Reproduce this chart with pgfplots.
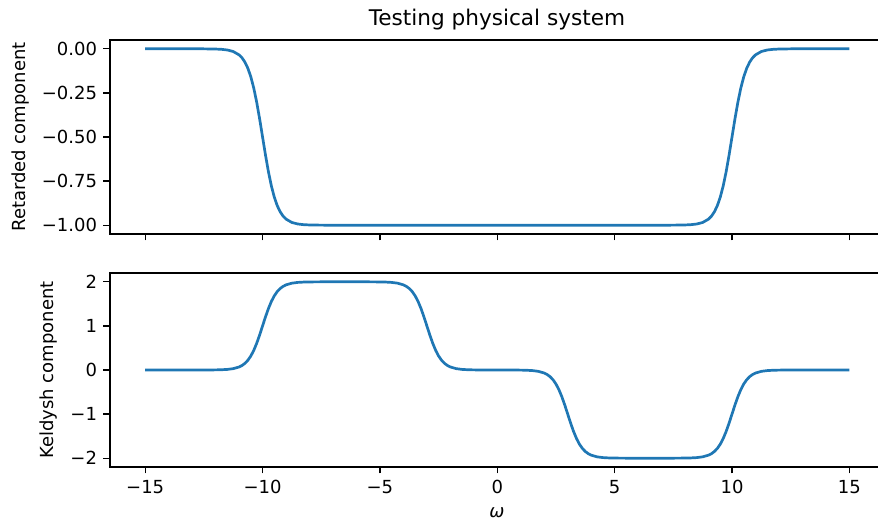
\documentclass[border=0pt]{standalone}
\usepackage{fontspec}
\setmainfont{DejaVu Sans}
\usepackage{pgfplots}
\pgfplotsset{compat=1.18}
\definecolor{cC0}{RGB}{31,119,180}
\pgfplotsset{
  myax/.style={
    scale only axis, width=768pt, height=194pt,
    xmin=-16.5, xmax=16.22,
    axis line style={draw=none},
    tick align=outside, major tick length=6.5pt,
    tick style={line width=1.3pt, black},
    xtick pos=left, ytick pos=left,
    xtick={-15,-10,-5,0,5,10,15},
    clip=false,
    yticklabel style={anchor=east, inner sep=0pt, xshift=-6.3pt},
    xticklabel style={anchor=north, inner sep=0pt, yshift=-6.3pt},
  }
}
\begin{document}
\fontsize{18}{21.6}\selectfont
\begin{tikzpicture}
\path[use as bounding box] (-110pt,-287pt) rectangle (768pt,234pt);
\begin{axis}[myax, at={(0,0)}, anchor=south west,
  ymin=-1.05, ymax=0.05,
  xticklabels={},
  ytick={-1,-0.75,-0.5,-0.25,0},
  yticklabels={−1.00,−0.75,−0.50,−0.25,0.00},
  ylabel={Retarded component},
  ylabel style={at={(rel axis cs:0,0.5)}, anchor=base, inner sep=0pt, yshift=84pt},
  title={Testing physical system},
  title style={at={(rel axis cs:0.5,1)}, anchor=base, inner sep=0pt, yshift=8.5pt, font=\fontsize{21.6}{26}\selectfont, xshift=3pt},
]
\draw[line width=1.3pt] (rel axis cs:1,1) -- (rel axis cs:0,1) -- (rel axis cs:0,0) -- (rel axis cs:1,0);
\addplot[cC0, line width=2.7pt, line join=round] coordinates {
(-15,0) (-13,0) (-12.5,-0.0002) (-12,-0.0013) (-11.75,-0.0029) (-11.5,-0.0067) (-11.25,-0.0153) (-11,-0.0344) (-10.875,-0.0513) (-10.75,-0.0759) (-10.625,-0.1107) (-10.5,-0.1589) (-10.375,-0.2227) (-10.25,-0.3029) (-10.125,-0.3973) (-10,-0.5) (-9.875,-0.6027) (-9.75,-0.6971) (-9.625,-0.7773) (-9.5,-0.8411) (-9.375,-0.8893) (-9.25,-0.9241) (-9.125,-0.9487) (-9,-0.9656) (-8.75,-0.9847) (-8.5,-0.9933) (-8.25,-0.9971) (-8,-0.9987) (-7.5,-0.9998) (-7,-1) (7,-1) (7.5,-0.9998) (8,-0.9987) (8.25,-0.9971) (8.5,-0.9933) (8.75,-0.9847) (9,-0.9656) (9.125,-0.9487) (9.25,-0.9241) (9.375,-0.8893) (9.5,-0.8411) (9.625,-0.7773) (9.75,-0.6971) (9.875,-0.6027) (10,-0.5) (10.125,-0.3973) (10.25,-0.3029) (10.375,-0.2227) (10.5,-0.1589) (10.625,-0.1107) (10.75,-0.0759) (10.875,-0.0513) (11,-0.0344) (11.25,-0.0153) (11.5,-0.0067) (11.75,-0.0029) (12,-0.0013) (12.5,-0.0002) (13,0) (15,0)
};
\end{axis}
\begin{axis}[myax, at={(0,-233pt)}, anchor=south west,
  ymin=-2.2, ymax=2.2,
  xticklabels={−15,−10,−5,0,5,10,15},
  ytick={-2,-1,0,1,2},
  yticklabels={−2,−1,0,1,2},
  ylabel={Keldysh component},
  ylabel style={at={(rel axis cs:0,0.5)}, anchor=base, inner sep=0pt, yshift=56pt},
  xlabel={\itshape ω},
  xlabel style={at={(rel axis cs:0.5,0)}, anchor=base, inner sep=0pt, yshift=-50pt, xshift=3pt},
]
\draw[line width=1.3pt] (rel axis cs:1,1) -- (rel axis cs:0,1) -- (rel axis cs:0,0) -- (rel axis cs:1,0);
\addplot[cC0, line width=2.7pt, line join=round] coordinates {
(-15,0) (-13,0) (-12.5,0.0005) (-12,0.0025) (-11.75,0.0058) (-11.5,0.0134) (-11.25,0.0306) (-11,0.0688) (-10.875,0.1026) (-10.75,0.1518) (-10.625,0.2214) (-10.5,0.3178) (-10.375,0.4454) (-10.25,0.6058) (-10.125,0.7946) (-10,1) (-9.875,1.2054) (-9.75,1.3942) (-9.625,1.5546) (-9.5,1.6822) (-9.375,1.7786) (-9.25,1.8482) (-9.125,1.8974) (-9,1.9312) (-8.75,1.9694) (-8.5,1.9866) (-8.25,1.9942) (-8,1.9975) (-7.5,1.9995) (-7,2) (-6,2) (-5.5,1.9995) (-5,1.9975) (-4.75,1.9942) (-4.5,1.9866) (-4.25,1.9694) (-4,1.9312) (-3.875,1.8974) (-3.75,1.8482) (-3.625,1.7786) (-3.5,1.6822) (-3.375,1.5546) (-3.25,1.3942) (-3.125,1.2054) (-3,1) (-2.875,0.7946) (-2.75,0.6058) (-2.625,0.4454) (-2.5,0.3178) (-2.375,0.2214) (-2.25,0.1518) (-2.125,0.1026) (-2,0.0688) (-1.75,0.0306) (-1.5,0.0134) (-1.25,0.0058) (-1,0.0025) (-0.5,0.0005) (0,0)
(0.5,-0.0005) (1,-0.0025) (1.25,-0.0058) (1.5,-0.0134) (1.75,-0.0306) (2,-0.0688) (2.125,-0.1026) (2.25,-0.1518) (2.375,-0.2214) (2.5,-0.3178) (2.625,-0.4454) (2.75,-0.6058) (2.875,-0.7946) (3,-1) (3.125,-1.2054) (3.25,-1.3942) (3.375,-1.5546) (3.5,-1.6822) (3.625,-1.7786) (3.75,-1.8482) (3.875,-1.8974) (4,-1.9312) (4.25,-1.9694) (4.5,-1.9866) (4.75,-1.9942) (5,-1.9975) (5.5,-1.9995) (6,-2) (7,-2) (7.5,-1.9995) (8,-1.9975) (8.25,-1.9942) (8.5,-1.9866) (8.75,-1.9694) (9,-1.9312) (9.125,-1.8974) (9.25,-1.8482) (9.375,-1.7786) (9.5,-1.6822) (9.625,-1.5546) (9.75,-1.3942) (9.875,-1.2054) (10,-1) (10.125,-0.7946) (10.25,-0.6058) (10.375,-0.4454) (10.5,-0.3178) (10.625,-0.2214) (10.75,-0.1518) (10.875,-0.1026) (11,-0.0688) (11.25,-0.0306) (11.5,-0.0134) (11.75,-0.0058) (12,-0.0025) (12.5,-0.0005) (13,0) (15,0)
};
\end{axis}
\end{tikzpicture}
\end{document}
